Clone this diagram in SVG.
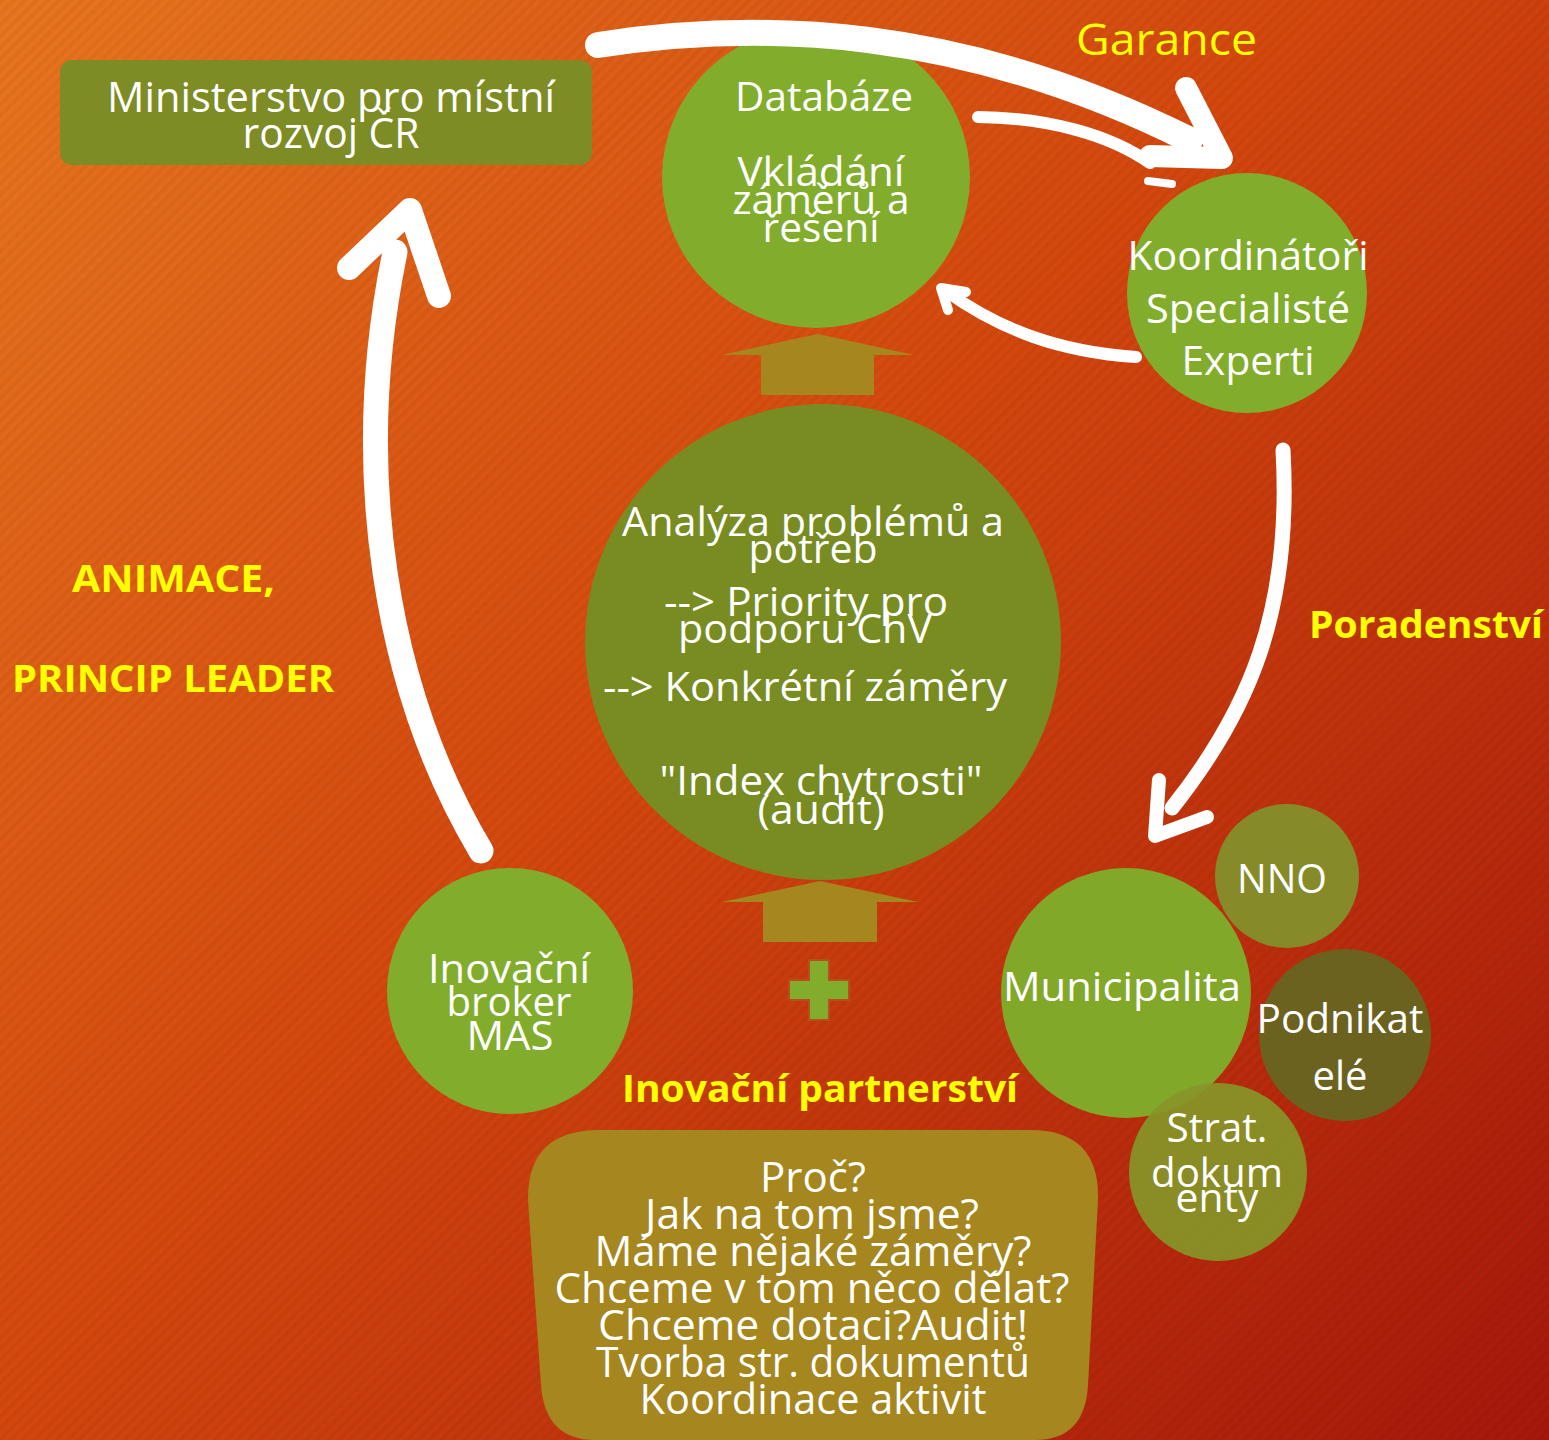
<svg xmlns="http://www.w3.org/2000/svg" width="1549" height="1440" viewBox="0 0 1549 1440">
  <defs>
    <linearGradient id="bg" x1="0" y1="0" x2="1549" y2="1440" gradientUnits="userSpaceOnUse">
      <stop offset="0" stop-color="#e8761f"/>
      <stop offset="0.45" stop-color="#d4480e"/>
      <stop offset="1" stop-color="#a5170a"/>
    </linearGradient>
    <pattern id="stripes" width="8" height="8" patternUnits="userSpaceOnUse" patternTransform="rotate(-45)">
      <rect width="8" height="4" fill="#000" opacity="0.04"/>
    </pattern>
  </defs>
  <style>
    .t { font-family: "Open Sans", "Noto Sans", "Liberation Sans", sans-serif; fill: #ffffff; text-anchor: middle; }
    .y { font-family: "Open Sans", "Noto Sans", "Liberation Sans", sans-serif; fill: #ffff00; }
    .yb { font-family: "Open Sans", "Noto Sans", "Liberation Sans", sans-serif; fill: #ffff00; font-weight: bold; }
    .w { fill: none; stroke: #ffffff; stroke-linecap: round; stroke-linejoin: round; }
    .blk { fill: #a6861e; }
  </style>

  <rect width="1549" height="1440" fill="url(#bg)"/>
  <rect width="1549" height="1440" fill="url(#stripes)"/>

  <!-- Ministerstvo -->
  <g id="ministerstvo">
    <rect x="60" y="60" width="532" height="105" rx="12" fill="#7d8c24"/>
    <text class="t" x="331" y="112" font-size="42" textLength="448" lengthAdjust="spacingAndGlyphs">Ministerstvo pro místní</text>
    <text class="t" x="331" y="148" font-size="42" textLength="177" lengthAdjust="spacingAndGlyphs">rozvoj ČR</text>
  </g>

  <!-- Databáze -->
  <g id="databaze">
    <ellipse cx="816" cy="177" rx="154" ry="151" fill="#82ad2c"/>
    <text class="t" x="824" y="111" font-size="40" textLength="178" lengthAdjust="spacingAndGlyphs">Databáze</text>
    <text class="t" x="821" y="186" font-size="40" textLength="167" lengthAdjust="spacingAndGlyphs">Vkládání</text>
    <text class="t" x="821" y="214" font-size="40" textLength="177" lengthAdjust="spacingAndGlyphs">záměrů a</text>
    <text class="t" x="821" y="242" font-size="40" textLength="117" lengthAdjust="spacingAndGlyphs">řešení</text>
  </g>

  <!-- Koordinátoři -->
  <g id="koordinatori">
    <circle cx="1247" cy="293" r="120" fill="#82ad2c"/>
    <text class="t" x="1248" y="270" font-size="40" textLength="241" lengthAdjust="spacingAndGlyphs">Koordinátoři</text>
    <text class="t" x="1248" y="323" font-size="40" textLength="204" lengthAdjust="spacingAndGlyphs">Specialisté</text>
    <text class="t" x="1248" y="375" font-size="40" textLength="133" lengthAdjust="spacingAndGlyphs">Experti</text>
  </g>

  <!-- block arrows -->
  <g id="block-arrow-top">
    <polygon class="blk" points="818,334 914,355 874,355 874,395 761,395 761,355 721,355"/>
  </g>
  <g id="block-arrow-bottom">
    <polygon class="blk" points="820,881 918,902 877,902 877,942 763,942 763,902 722,902"/>
  </g>

  <!-- Central analysis circle -->
  <g id="analyza">
    <circle cx="823" cy="642" r="238" fill="#788c22"/>
    <text class="t" x="813" y="536" font-size="40" textLength="382" lengthAdjust="spacingAndGlyphs">Analýza problémů a</text>
    <text class="t" x="813" y="563" font-size="40" textLength="129" lengthAdjust="spacingAndGlyphs">potřeb</text>
    <text class="t" x="806" y="616" font-size="40" textLength="284" lengthAdjust="spacingAndGlyphs">--&gt; Priority pro</text>
    <text class="t" x="805" y="643" font-size="40" textLength="254" lengthAdjust="spacingAndGlyphs">podporu ChV</text>
    <text class="t" x="805" y="701" font-size="40" textLength="404" lengthAdjust="spacingAndGlyphs">--&gt; Konkrétní záměry</text>
    <text class="t" x="821" y="795" font-size="40" textLength="323" lengthAdjust="spacingAndGlyphs">"Index chytrosti"</text>
    <text class="t" x="821" y="824" font-size="40" textLength="127" lengthAdjust="spacingAndGlyphs">(audit)</text>
  </g>

  <!-- Plus sign -->
  <g id="plus">
    <path d="M809,960 H829 V980 H849 V1000 H829 V1020 H809 V1000 H789 V980 H809 Z" fill="#82ad2c" stroke="#b5501a" stroke-width="2"/>
  </g>

  <!-- Inovační broker -->
  <g id="broker">
    <circle cx="510" cy="991" r="123" fill="#82ad2c"/>
    <text class="t" x="509" y="983" font-size="40" textLength="162" lengthAdjust="spacingAndGlyphs">Inovační</text>
    <text class="t" x="509" y="1016" font-size="40" textLength="125" lengthAdjust="spacingAndGlyphs">broker</text>
    <text class="t" x="510" y="1050" font-size="40" textLength="87" lengthAdjust="spacingAndGlyphs">MAS</text>
  </g>

  <!-- Municipality cluster -->
  <g id="nno">
    <circle cx="1287" cy="876" r="72" fill="#868a28"/>
    <text class="t" x="1282" y="893" font-size="40" textLength="90" lengthAdjust="spacingAndGlyphs">NNO</text>
  </g>
  <g id="podnikatele">
    <circle cx="1345" cy="1035" r="86" fill="#6b6220"/>
    <text class="t" x="1340" y="1033" font-size="40" textLength="167" lengthAdjust="spacingAndGlyphs">Podnikat</text>
    <text class="t" x="1340" y="1090" font-size="40" textLength="55" lengthAdjust="spacingAndGlyphs">elé</text>
  </g>
  <g id="municipalita">
    <circle cx="1126" cy="993" r="125" fill="#82a82a"/>
    <text class="t" x="1122" y="1001" font-size="40" textLength="238" lengthAdjust="spacingAndGlyphs">Municipalita</text>
  </g>
  <g id="strat-dokumenty">
    <circle cx="1218" cy="1172" r="89" fill="#879428" fill-opacity="0.93"/>
    <text class="t" x="1217" y="1142" font-size="40" textLength="101" lengthAdjust="spacingAndGlyphs">Strat.</text>
    <text class="t" x="1217" y="1187" font-size="40" textLength="132" lengthAdjust="spacingAndGlyphs">dokum</text>
    <text class="t" x="1217" y="1212" font-size="40" textLength="83" lengthAdjust="spacingAndGlyphs">enty</text>
  </g>

  <!-- Questions box -->
  <g id="otazky">
    <path d="M600,1130 L1030,1130 Q1100,1130 1098,1200 L1088,1385 Q1085,1440 1035,1440 L595,1440 Q545,1440 541,1385 L528,1200 Q527,1130 600,1130 Z" fill="#a6861e"/>
    <text class="t" x="813" y="1192" font-size="42" textLength="106" lengthAdjust="spacingAndGlyphs">Proč?</text>
    <text class="t" x="812" y="1229" font-size="42" textLength="334" lengthAdjust="spacingAndGlyphs">Jak na tom jsme?</text>
    <text class="t" x="813" y="1266" font-size="42" textLength="437" lengthAdjust="spacingAndGlyphs">Máme nějaké záměry?</text>
    <text class="t" x="812" y="1303" font-size="42" textLength="515" lengthAdjust="spacingAndGlyphs">Chceme v tom něco dělat?</text>
    <text class="t" x="813" y="1340" font-size="42" textLength="430" lengthAdjust="spacingAndGlyphs">Chceme dotaci?Audit!</text>
    <text class="t" x="813" y="1377" font-size="42" textLength="434" lengthAdjust="spacingAndGlyphs">Tvorba str. dokumentů</text>
    <text class="t" x="813" y="1414" font-size="42" textLength="347" lengthAdjust="spacingAndGlyphs">Koordinace aktivit</text>
  </g>

  <!-- Labels -->
  <g id="labels">
    <text class="y" x="1076" y="55" font-size="44" textLength="181" lengthAdjust="spacingAndGlyphs">Garance</text>
    <text class="yb" x="1309" y="638" font-size="38" textLength="234" lengthAdjust="spacingAndGlyphs">Poradenství</text>
    <text class="yb" x="72" y="592" font-size="38" textLength="203" lengthAdjust="spacingAndGlyphs">ANIMACE,</text>
    <text class="yb" x="12" y="692" font-size="38" textLength="322" lengthAdjust="spacingAndGlyphs">PRINCIP LEADER</text>
    <text class="yb" x="622" y="1102" font-size="38" textLength="396" lengthAdjust="spacingAndGlyphs">Inovační partnerství</text>
  </g>

  <!-- Connectors -->
  <g id="connectors">
    <!-- big top arrow: Ministerstvo -> Koordinátoři -->
    <path class="w" stroke-width="26" d="M598,45 C760,20 960,25 1190,140"/>
    <polyline class="w" stroke-width="22" points="1186,88 1222,158 1150,156"/>
    <!-- Databáze -> Koordinátoři -->
    <path class="w" stroke-width="12" d="M978,117 C1050,118 1110,135 1150,163"/>
    <path class="w" stroke-width="8" d="M1148,181 L1172,184"/>
    <!-- Koordinátoři -> Databáze -->
    <path class="w" stroke-width="12" d="M1136,357 C1060,352 1000,330 946,291"/>
    <polyline class="w" stroke-width="10" points="948,310 941,288 966,292"/>
    <!-- Koordinátoři -> Municipalita -->
    <path class="w" stroke-width="15" d="M1283,450 C1292,610 1250,710 1172,808"/>
    <polyline class="w" stroke-width="14" points="1159,780 1155,836 1207,817"/>
    <!-- Inovační broker -> Ministerstvo -->
    <path class="w" stroke-width="25" d="M481,851 C385,690 350,470 395,252"/>
    <polyline class="w" stroke-width="24" points="349,268 410,210 439,296"/>
  </g>
</svg>
